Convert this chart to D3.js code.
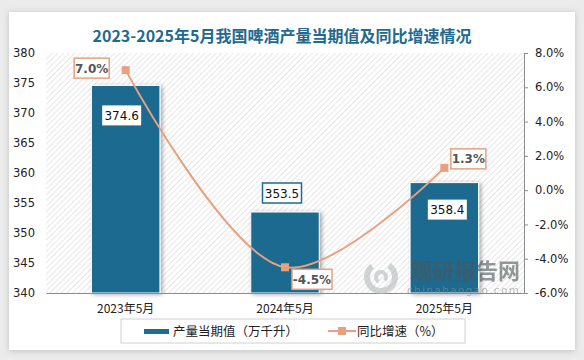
<!DOCTYPE html>
<html>
<head>
<meta charset="utf-8">
<script src="https://cdn.jsdelivr.net/npm/d3@7"></script>
<style>
  body { margin: 0; background: #ebebeb; }
  svg { display: block; }
</style>
</head>
<body>
<div class="canvas"></div>
<script>
// data
const categories = ['2023年5月', '2024年5月', '2025年5月']
const output = [374.6, 353.5, 358.4]        // 产量当期值（万千升）
const growth = [7.0, -4.5, 1.3]             // 同比增速（%）
const leftTicks = [340, 345, 350, 355, 360, 365, 370, 375, 380]
const rightTicks = [-6, -4, -2, 0, 2, 4, 6, 8]

const W = 584, H = 360
const margin = { top: 53, right: 60, bottom: 67, left: 46 }
const graphWidth = W - margin.left - margin.right
const graphHeight = H - margin.top - margin.bottom

const barColor = '#1d6b8f'
const lineColor = '#e8a07f'
const font = "'DejaVu Sans', 'Noto Sans CJK SC', sans-serif"
const cjk = "'Noto Sans CJK SC', sans-serif"

const svg = d3.select('.canvas')
    .append('svg')
    .attr('width', W)
    .attr('height', H)

const defs = svg.append('defs')
const pat = defs.append('pattern')
    .attr('id', 'hatch')
    .attr('patternUnits', 'userSpaceOnUse')
    .attr('width', 4)
    .attr('height', 4)
    .attr('patternTransform', 'rotate(45)')
pat.append('line')
    .attr('x1', 0).attr('y1', 0).attr('x2', 0).attr('y2', 4)
    .attr('stroke', '#d6d6d6')
    .attr('stroke-width', 1.2)

const shadow = defs.append('filter').attr('id', 'shadow')
    .attr('x', '-20%').attr('y', '-20%').attr('width', '140%').attr('height', '140%')
shadow.append('feDropShadow')
    .attr('dx', 2).attr('dy', 1).attr('stdDeviation', 2)
    .attr('flood-color', '#000').attr('flood-opacity', 0.35)

const cardShadow = defs.append('filter').attr('id', 'cardShadow')
    .attr('x', '-5%').attr('y', '-5%').attr('width', '110%').attr('height', '110%')
cardShadow.append('feDropShadow')
    .attr('dx', 0).attr('dy', 1).attr('stdDeviation', 3)
    .attr('flood-color', '#000').attr('flood-opacity', 0.18)

// card
svg.append('rect')
    .attr('x', 9).attr('y', 12)
    .attr('width', 566).attr('height', 338)
    .attr('fill', '#fff')
    .attr('filter', 'url(#cardShadow)')

// title
svg.append('text')
    .attr('x', 282).attr('y', 42)
    .attr('text-anchor', 'middle')
    .attr('font-family', cjk)
    .attr('font-weight', 'bold')
    .attr('font-size', 16)
    .attr('fill', '#1f6a8e')
    .text('2023-2025年5月我国啤酒产量当期值及同比增速情况')

const graph = svg.append('g')
    .attr('transform', `translate(${margin.left},${margin.top})`)

// scales
const x = d3.scaleBand()
    .domain(categories)
    .range([0, graphWidth])
    .paddingInner(0.57)
    .paddingOuter(0.285)

const y = d3.scaleLinear()
    .domain([340, 380])
    .range([graphHeight, 0])

const y2 = d3.scaleLinear()
    .domain([-6, 8])
    .range([graphHeight, 0])

const xc = d => x(d) + x.bandwidth() / 2

// plot background
graph.append('rect')
    .attr('width', graphWidth)
    .attr('height', graphHeight)
    .attr('fill', 'url(#hatch)')

// bars
graph.selectAll('rect.bar')
    .data(output)
    .enter()
    .append('rect')
    .attr('class', 'bar')
    .attr('x', (d, i) => x(categories[i]))
    .attr('y', d => y(d))
    .attr('width', x.bandwidth())
    .attr('height', d => graphHeight - y(d))
    .attr('fill', barColor)
    .attr('stroke', '#fff')
    .attr('stroke-width', 1)
    .attr('filter', 'url(#shadow)')

// watermark
const wm = svg.append('g').attr('opacity', 0.6)
wm.append('path')
    .attr('d', d3.arc()({ innerRadius: 11, outerRadius: 17, startAngle: 0.6, endAngle: 5.6 }))
    .attr('transform', 'translate(381,277)')
    .attr('fill', '#b5babc')
wm.append('path')
    .attr('d', d3.arc()({ innerRadius: 3, outerRadius: 7, startAngle: 3.6, endAngle: 8.6 }))
    .attr('transform', 'translate(381,277)')
    .attr('fill', '#b5babc')
wm.append('text')
    .attr('x', 410).attr('y', 279)
    .attr('font-family', cjk).attr('font-weight', 'bold')
    .attr('font-size', 22).attr('fill', '#4e5456')
    .text('观研报告网')
wm.append('text')
    .attr('x', 407).attr('y', 294)
    .attr('font-family', font)
    .attr('font-size', 10.5)
    .attr('textLength', 112)
    .attr('fill', '#8a8f91')
    .text('chinabaogao.com')

// x axis
const xAxisGroup = graph.append('g')
    .attr('transform', `translate(0,${graphHeight})`)
    .call(d3.axisBottom(x).tickSize(0).tickPadding(11))
xAxisGroup.select('.domain').attr('stroke', '#8c8c8c')
xAxisGroup.selectAll('text')
    .attr('font-family', cjk)
    .attr('font-size', 12)
    .attr('fill', '#222')

// left axis
const yAxisGroup = graph.append('g')
    .call(d3.axisLeft(y).tickValues(leftTicks).tickSize(0).tickPadding(11))
yAxisGroup.select('.domain').remove()
yAxisGroup.selectAll('text')
    .attr('font-family', font)
    .attr('font-size', 11.5)
    .attr('fill', '#222')

// right axis
const y2AxisGroup = graph.append('g')
    .attr('transform', `translate(${graphWidth},0)`)
    .call(d3.axisRight(y2).tickValues(rightTicks).tickSize(4).tickSizeOuter(4).tickPadding(7)
        .tickFormat(d => d.toFixed(1) + '%'))
y2AxisGroup.select('.domain').attr('stroke', '#8c8c8c')
y2AxisGroup.selectAll('line').attr('stroke', '#8c8c8c')
y2AxisGroup.selectAll('text')
    .attr('font-family', font)
    .attr('font-size', 11.5)
    .attr('fill', '#222')

// line
const line = d3.line()
    .x((d, i) => xc(categories[i]))
    .y(d => y2(d))
    .curve(d3.curveCatmullRom.alpha(0.5))

graph.append('path')
    .datum(growth)
    .attr('d', line)
    .attr('fill', 'none')
    .attr('stroke', lineColor)
    .attr('stroke-width', 2)

graph.selectAll('rect.marker')
    .data(growth)
    .enter()
    .append('rect')
    .attr('class', 'marker')
    .attr('x', (d, i) => xc(categories[i]) - 4)
    .attr('y', d => y2(d) - 4)
    .attr('width', 8)
    .attr('height', 8)
    .attr('fill', lineColor)

// labels
const labelBox = (cx, cy, txt, stroke, w) => {
    const g = graph.append('g')
    g.append('rect')
        .attr('x', cx - w / 2).attr('y', cy - 10)
        .attr('width', w).attr('height', 20)
        .attr('fill', '#fff')
        .attr('stroke', stroke)
        .attr('stroke-width', stroke === 'none' ? 0 : 1.5)
    g.append('text')
        .attr('x', cx).attr('y', cy + 4.5)
        .attr('text-anchor', 'middle')
        .attr('font-family', font)
        .attr('font-size', 12)
        .attr('fill', '#111')
        .text(txt)
}

// bar value labels
const valOffsets = [[-4, 30], [-3, -19], [3, 27]]
const valStroke = ['none', barColor, 'none']
output.forEach((d, i) => {
    labelBox(xc(categories[i]) + valOffsets[i][0], y(d) + valOffsets[i][1],
        d.toFixed(1), valStroke[i], 39)
})

// growth labels
const gOffsets = [[-34, -2], [27, 12], [24, -9]]
growth.forEach((d, i) => {
    const g = graph.append('g')
    const cx = xc(categories[i]) + gOffsets[i][0]
    const cy = y2(d) + gOffsets[i][1]
    const w = d < 0 ? 40 : 35
    g.append('rect')
        .attr('x', cx - w / 2).attr('y', cy - 10)
        .attr('width', w).attr('height', 20)
        .attr('fill', '#fff')
        .attr('stroke', lineColor)
        .attr('stroke-width', 1.5)
    g.append('text')
        .attr('x', cx).attr('y', cy + 4.5)
        .attr('text-anchor', 'middle')
        .attr('font-family', font)
        .attr('font-weight', 'bold')
        .attr('font-size', 12)
        .attr('fill', '#555')
        .text(d.toFixed(1) + '%')
})

// legend
const legend = svg.append('g')
legend.append('rect')
    .attr('x', 121).attr('y', 319)
    .attr('width', 344).attr('height', 24)
    .attr('fill', '#fff')
    .attr('stroke', '#d0d0d0')
legend.append('rect')
    .attr('x', 144).attr('y', 329)
    .attr('width', 25).attr('height', 5)
    .attr('fill', barColor)
legend.append('text')
    .attr('x', 173).attr('y', 336)
    .attr('font-family', cjk)
    .attr('font-size', 12.5)
    .attr('fill', '#222')
    .text('产量当期值（万千升）')
legend.append('line')
    .attr('x1', 328).attr('x2', 356)
    .attr('y1', 331).attr('y2', 331)
    .attr('stroke', lineColor).attr('stroke-width', 2)
legend.append('rect')
    .attr('x', 338).attr('y', 327)
    .attr('width', 8).attr('height', 8)
    .attr('fill', lineColor)
legend.append('text')
    .attr('x', 357).attr('y', 336)
    .attr('font-family', cjk)
    .attr('font-size', 12.5)
    .attr('fill', '#222')
    .text('同比增速（%）')
</script>
</body>
</html>
